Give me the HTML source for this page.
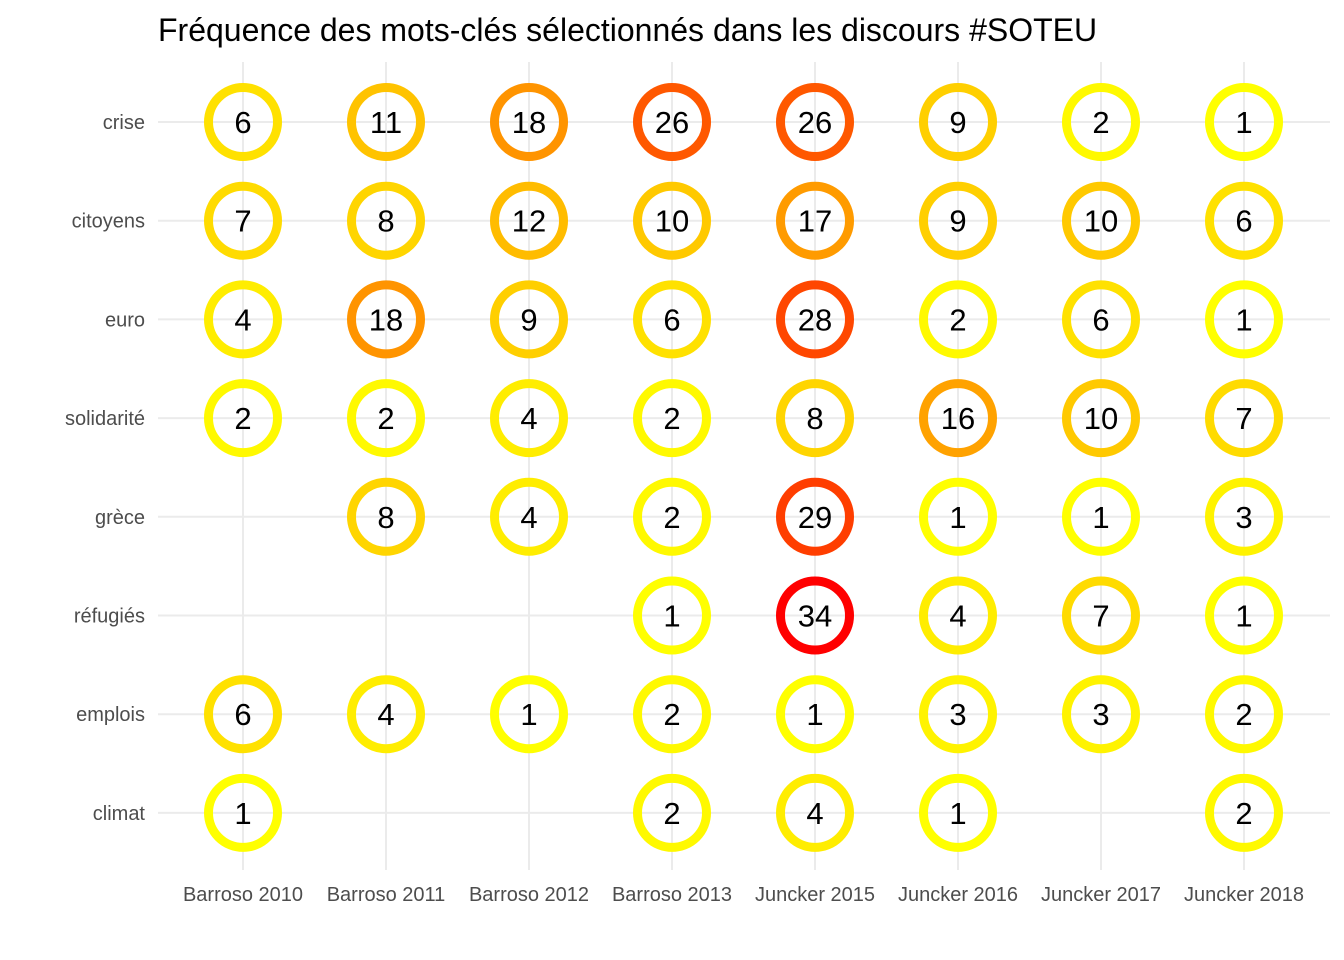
<!DOCTYPE html>
<html><head><meta charset="utf-8">
<style>
html,body{margin:0;padding:0;background:#fff;}
svg{display:block;font-family:"Liberation Sans",sans-serif;}
</style></head>
<body>
<svg id="chart" width="1344" height="960" viewBox="0 0 1344 960">
<text x="158" y="41" font-size="32" fill="#000">Fréquence des mots-clés sélectionnés dans les discours #SOTEU</text>
<g id="grid"></g>
<g id="marks"></g>
<g id="axes"></g>
</svg>
<script>
const speeches = ["Barroso 2010","Barroso 2011","Barroso 2012","Barroso 2013","Juncker 2015","Juncker 2016","Juncker 2017","Juncker 2018"];
const keywords = ["crise","citoyens","euro","solidarité","grèce","réfugiés","emplois","climat"];
const crise = [6,11,18,26,26,9,2,1];
const citoyens = [7,8,12,10,17,9,10,6];
const euro = [4,18,9,6,28,2,6,1];
const solidarite = [2,2,4,2,8,16,10,7];
const grece = [null,8,4,2,29,1,1,3];
const refugies = [null,null,null,1,34,4,7,1];
const emplois = [6,4,1,2,1,3,3,2];
const climat = [1,null,null,2,4,1,null,2];
const rows = [crise,citoyens,euro,solidarite,grece,refugies,emplois,climat];

const NS="http://www.w3.org/2000/svg";
const x0=243, dx=143, y0=122, dy=98.7;
function xScale(i){return x0+i*dx;}
function yScale(j){return y0+j*dy;}
const vmin=1, vmax=34;
function color(v){
  const t=(v-vmin)/(vmax-vmin);
  const g=Math.round(255*Math.pow(1-t,0.75));
  return "rgb(255,"+g+",0)";
}
function mk(tag,attrs,parent){const e=document.createElementNS(NS,tag);for(const k in attrs)e.setAttribute(k,attrs[k]);parent.appendChild(e);return e;}
const grid=document.getElementById('grid'), marks=document.getElementById('marks'), axes=document.getElementById('axes');
keywords.forEach((k,j)=>{
  const l=mk('line',{x1:158,x2:1330,y1:yScale(j),y2:yScale(j),stroke:'#ebebeb','stroke-width':2},grid);
  
  
  const t=mk('text',{x:145,y:yScale(j)+7,'text-anchor':'end','font-size':20,fill:'#4d4d4d'},axes);
  t.textContent=k;
  
  
});
speeches.forEach((s,i)=>{
  const l=mk('line',{x1:xScale(i),x2:xScale(i),y1:62,y2:870,stroke:'#ebebeb','stroke-width':2},grid);
  
  
  const t=mk('text',{x:xScale(i),y:901,'text-anchor':'middle','font-size':20,fill:'#4d4d4d'},axes);
  t.textContent=s;
  
  
});
rows.forEach((r,j)=>{
  r.forEach((v,i)=>{
    if(v==null)return;
    const c=mk('circle',{cx:xScale(i),cy:yScale(j),r:34.5,fill:'none',stroke:color(v),'stroke-width':9},marks);
    
    
    const t=mk('text',{x:xScale(i),y:yScale(j)+11,'text-anchor':'middle','font-size':31,fill:'#000'},marks);
    t.textContent=v;
    
    
  });
});
</script>
</body></html>
